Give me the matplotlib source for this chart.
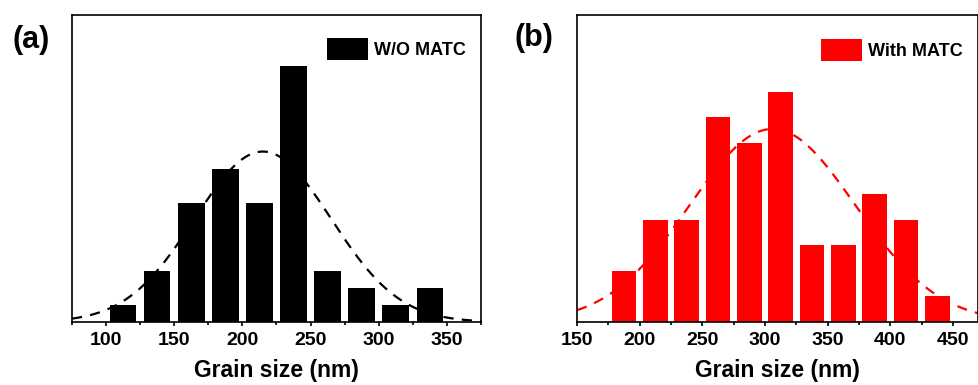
import matplotlib.pyplot as plt
import numpy as np
from matplotlib.ticker import MultipleLocator

plt.rcParams['font.family'] = ['Liberation Sans', 'DejaVu Sans']
plt.rcParams['font.weight'] = 'bold'

# Histogram data (bin centres in nm, counts)
bins_a = [112.5, 137.5, 162.5, 187.5, 212.5, 237.5, 262.5, 287.5, 312.5, 337.5]
counts_a = [1, 3, 7, 9, 7, 15, 3, 2, 1, 2]
bins_b = [187.5, 212.5, 237.5, 262.5, 287.5, 312.5, 337.5, 362.5, 387.5, 412.5, 437.5]
counts_b = [2, 4, 4, 8, 7, 9, 3, 3, 5, 4, 1]

# Gaussian fit parameters: amplitude, mean, sigma
fit_a = [10.0, 215, 50]
fit_b = [7.55, 306, 66]

fig = plt.figure(figsize=(9.79, 3.85), dpi=100)
ax_a = fig.add_axes([0.0735, 0.1636, 0.4178, 0.797])
ax_b = fig.add_axes([0.5894, 0.1636, 0.4096, 0.797])


def draw_panel(ax, centers, counts, fit, color, xlim, ylim, label, leg_x, leg_y):
    x = np.linspace(xlim[0], xlim[1], 400)
    amp, mu, sig = fit
    ax.plot(x, amp * np.exp(-(x - mu) ** 2 / (2 * sig ** 2)), color=color,
            lw=1.6, ls=(0, (4.6, 3.7)), zorder=1)
    ax.bar(centers, counts, width=19.5, color=color, label=label, zorder=2)
    ax.set_xlim(*xlim)
    ax.set_ylim(*ylim)
    ax.set_yticks([])
    ax.xaxis.set_major_locator(MultipleLocator(50))
    ax.xaxis.set_minor_locator(MultipleLocator(25))
    ax.tick_params(axis='x', which='major', length=3, width=1.2, labelsize=14, pad=4)
    ax.tick_params(axis='x', which='minor', length=2, width=1.2)
    for sp in ax.spines.values():
        sp.set_linewidth(1.2)
    ax.set_xlabel('Grain size (nm)', fontsize=16.5, fontweight='bold', labelpad=7.5)
    ax.legend(loc='upper left', bbox_to_anchor=(leg_x, leg_y), frameon=False,
              fontsize=13, handlelength=2.3, handleheight=1.45, handletextpad=0.3,
              borderpad=0, borderaxespad=0)


draw_panel(ax_a, bins_a, counts_a, fit_a, 'black', (75, 375), (0, 18),
           'W/O MATC', 0.623, 0.925)
draw_panel(ax_b, bins_b, counts_b, fit_b, '#ff0000', (150, 470), (0, 12),
           'With MATC', 0.608, 0.922)

fig.text(0.013, 0.935, '(a)', fontsize=22, fontweight='bold', va='top', ha='left')
fig.text(0.526, 0.94, '(b)', fontsize=22, fontweight='bold', va='top', ha='left')

fig.savefig('out.png', dpi=100)
